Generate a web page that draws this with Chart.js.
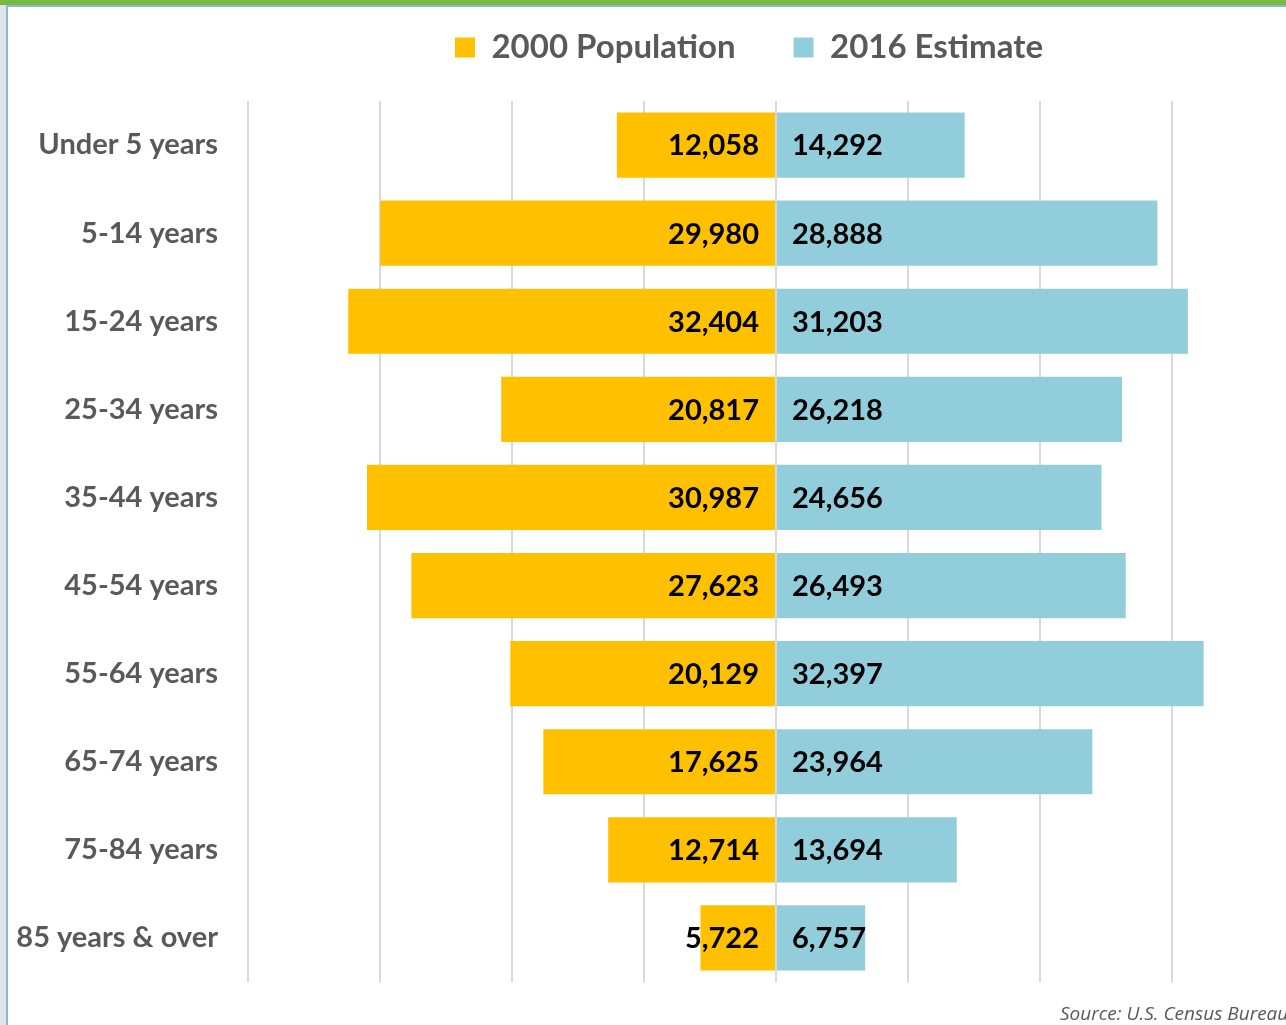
<!DOCTYPE html>
<html>
<head>
<meta charset="utf-8">
<script src="https://cdn.jsdelivr.net/npm/chart.js@4"></script>
<style>
    html, body { margin: 0; padding: 0; overflow: hidden; background: #fff; }
    #wrap { position: relative; width: 1310px; height: 1025px; }
    #topBar { position: absolute; left: 0; top: 0; width: 1310px; height: 5px; background: #77b843; }
    #topLine { position: absolute; left: 6px; top: 5px; width: 1304px; height: 2px; background: #95b3d7; }
    #leftStrip { position: absolute; left: 0; top: 5px; width: 6px; height: 1020px; background: #dfe5ec; }
    #leftLine { position: absolute; left: 6px; top: 5px; width: 2px; height: 1020px; background: #95b3d7; }
    #source { position: absolute; left: 1060px; top: 1000px; font: italic 19px "Open Sans", sans-serif; color: #595959; white-space: nowrap; }
    canvas { position: absolute; left: 0; top: 0; }
</style>
</head>
<body>
<div id="wrap">
    <canvas id="pyramid" width="1310" height="1025"></canvas>
    <div id="topBar"></div>
    <div id="topLine"></div>
    <div id="leftStrip"></div>
    <div id="leftLine"></div>
    <div id="source">Source: U.S. Census Bureau</div>
</div>
<script>
const ageGroups = ['Under 5 years', '5-14 years', '15-24 years', '25-34 years', '35-44 years',
    '45-54 years', '55-64 years', '65-74 years', '75-84 years', '85 years & over'];
const pop2000 = [12058, 29980, 32404, 20817, 30987, 27623, 20129, 17625, 12714, 5722];
const est2016 = [14292, 28888, 31203, 26218, 24656, 26493, 32397, 23964, 13694, 6757];
const xTicks = [-40000, -30000, -20000, -10000, 0, 10000, 20000, 30000, 40000];

const labelFont = 'Lato, "Open Sans", sans-serif';

// values printed at the inner end of each bar
const barValues = {
    id: 'barValues',
    afterDatasetsDraw(chart) {
        const ctx = chart.ctx;
        ctx.save();
        ctx.font = 'bold 29px ' + labelFont;
        ctx.fillStyle = '#000';
        ctx.textBaseline = 'middle';
        chart.data.datasets.forEach((ds, i) => {
            chart.getDatasetMeta(i).data.forEach((bar, j) => {
                const v = Math.abs(ds.data[j]).toLocaleString('en-US');
                if (i === 0) {
                    ctx.textAlign = 'right';
                    ctx.fillText(v, bar.base - 16, bar.y + 1);
                } else {
                    ctx.textAlign = 'left';
                    ctx.fillText(v, bar.base + 15, bar.y + 1);
                }
            });
        });
        ctx.restore();
    }
};

// legend sits a bit left of the plot centre and higher than chart.js puts it
const legendShift = {
    id: 'legendShift',
    afterLayout(chart) {
        const lg = chart.legend;
        lg.left = 194;
        lg.top -= 27;
        lg.bottom -= 27;
    }
};

new Chart(document.getElementById('pyramid'), {
    type: 'bar',
    data: {
        labels: ageGroups,
        datasets: [{
            label: '2000 Population',
            data: pop2000.map(v => -v),
            backgroundColor: '#ffc000',
            categoryPercentage: 1,
            barPercentage: 0.74
        }, {
            label: '2016 Estimate',
            data: est2016,
            backgroundColor: '#92cddc',
            categoryPercentage: 1,
            barPercentage: 0.74
        }]
    },
    options: {
        indexAxis: 'y',
        responsive: false,
        animation: false,
        layout: { padding: { left: 8, right: 6, top: 0, bottom: 43 } },
        scales: {
            x: {
                stacked: true,
                min: -40000,
                max: 40000,
                afterBuildTicks: axis => { axis.ticks = xTicks.map(v => ({ value: v })); },
                ticks: { display: false },
                grid: { color: '#d9d9d9', lineWidth: 2, drawTicks: false },
                border: { display: false }
            },
            y: {
                stacked: true,
                afterFit: axis => {
                    axis.width = 240;
                    axis.paddingTop = 0;
                    axis.paddingBottom = 0;
                },
                ticks: {
                    color: '#595959',
                    padding: 30,
                    font: { family: labelFont, size: 29, weight: 'bold' }
                },
                grid: { display: false, drawTicks: false },
                border: { display: false }
            }
        },
        plugins: {
            legend: {
                position: 'top',
                labels: {
                    color: '#595959',
                    boxWidth: 20,
                    boxHeight: 20,
                    padding: 58,
                    font: { family: labelFont, size: 33, weight: 'bold' }
                }
            },
            tooltip: { enabled: false }
        }
    },
    plugins: [barValues, legendShift]
});
</script>
</body>
</html>
